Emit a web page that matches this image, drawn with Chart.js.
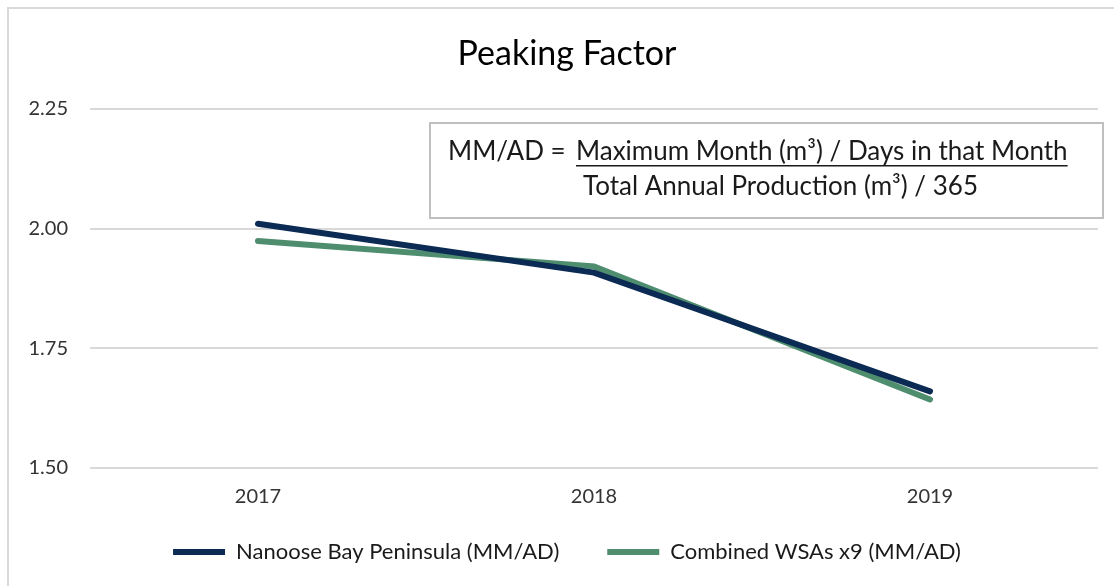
<!DOCTYPE html>
<html>
<head>
<meta charset="utf-8">
<script src="https://cdn.jsdelivr.net/npm/chart.js@4"></script>
<style>
  html, body { margin: 0; padding: 0; background: #fff; overflow: hidden; }
  #wrap { position: relative; width: 1114px; height: 586px; }
</style>
</head>
<body>
<div id="wrap"><canvas id="chart" width="1114" height="586"></canvas></div>
<script>
// Data
const years = ['2017', '2018', '2019'];
const nanooseBay = [2.010, 1.908, 1.660];
const combinedWsas = [1.974, 1.921, 1.643];
const yTicks = [1.50, 1.75, 2.00, 2.25];

const FONT = 'Lato, "Open Sans", sans-serif';
const NAVY = '#0c2b54';
const GREEN = '#4f8d6f';

// Chart frame + formula box drawn as annotations
const frameAndNote = {
  id: 'frameAndNote',
  beforeDraw(chart) {
    const ctx = chart.ctx;
    ctx.save();
    ctx.fillStyle = '#fff';
    ctx.fillRect(0, 0, chart.width, chart.height);
    ctx.strokeStyle = '#d9d9d9';
    ctx.lineWidth = 2;
    ctx.strokeRect(8, 8, chart.width + 20, chart.height + 20);
    ctx.restore();
  },
  afterDatasetsDraw(chart) {
    const ctx = chart.ctx;
    ctx.save();
    ctx.fillStyle = '#fff';
    ctx.fillRect(430, 123, 673, 95);
    ctx.strokeStyle = '#bfbfbf';
    ctx.lineWidth = 2;
    ctx.strokeRect(430, 123, 673, 95);

    ctx.fillStyle = '#1a1a1a';
    ctx.textBaseline = 'middle';
    ctx.font = '26px ' + FONT;
    ctx.fillText('MM/AD =', 448, 152);

    const num = 'Maximum Month (m³) / Days in that Month';
    const den = 'Total Annual Production (m³) / 365';
    ctx.fillText(num, 576, 152);
    const w = ctx.measureText(num).width;
    ctx.fillRect(576, 165, w, 1.5);
    ctx.fillText(den, 583, 187);
    ctx.restore();
  }
};

// let tick labels hang outside their squeezed axis boxes
const noLabelClip = scale => { scale._computeLabelArea = () => undefined; };

new Chart(document.getElementById('chart'), {
  type: 'line',
  data: {
    labels: years,
    datasets: [
      {
        label: 'Nanoose Bay Peninsula (MM/AD)',
        data: nanooseBay,
        borderColor: NAVY,
        backgroundColor: NAVY,
        borderWidth: 6,
        pointRadius: 0,
        borderCapStyle: 'round',
        tension: 0
      },
      {
        label: 'Combined WSAs x9 (MM/AD)',
        data: combinedWsas,
        borderColor: GREEN,
        backgroundColor: GREEN,
        borderWidth: 6,
        pointRadius: 0,
        borderCapStyle: 'round',
        tension: 0
      }
    ]
  },
  options: {
    responsive: false,
    animation: false,
    layout: { padding: { left: 36, right: 16, top: 0, bottom: 13 } },
    plugins: {
      title: {
        display: true,
        text: 'Peaking Factor',
        color: '#000',
        font: { family: FONT, size: 34, weight: 'normal', lineHeight: 1.2 },
        padding: { top: 34, bottom: 34 }
      },
      legend: {
        position: 'bottom',
        labels: {
          color: '#1a1a1a',
          font: { family: FONT, size: 22 },
          boxWidth: 52,
          boxHeight: 6,
          padding: 48,
          generateLabels(chart) {
            return chart.data.datasets.map((ds, i) => ({
              text: ds.label,
              fillStyle: ds.borderColor,
              strokeStyle: ds.borderColor,
              lineWidth: 0,
              fontColor: '#1a1a1a',
              datasetIndex: i,
              hidden: false
            }));
          }
        }
      },
      tooltip: { enabled: false }
    },
    scales: {
      x: {
        offset: true,
        grid: { display: false, drawTicks: false },
        border: { display: false },
        ticks: { color: '#333', font: { family: FONT, size: 20 }, padding: 17 },
        afterFit(scale) {
          scale.height = 25;
          noLabelClip(scale);
        }
      },
      y: {
        min: 1.5,
        max: 2.25,
        afterBuildTicks(scale) { scale.ticks = yTicks.map(v => ({ value: v })); },
        grid: { color: '#d9d9d9', lineWidth: 2, drawTicks: false },
        border: { display: false },
        ticks: {
          color: '#333',
          font: { family: FONT, size: 20 },
          padding: 22,
          callback: v => v.toFixed(2)
        },
        afterFit(scale) {
          scale.width = 54;
          noLabelClip(scale);
        }
      }
    }
  },
  plugins: [frameAndNote]
});
</script>
</body>
</html>
